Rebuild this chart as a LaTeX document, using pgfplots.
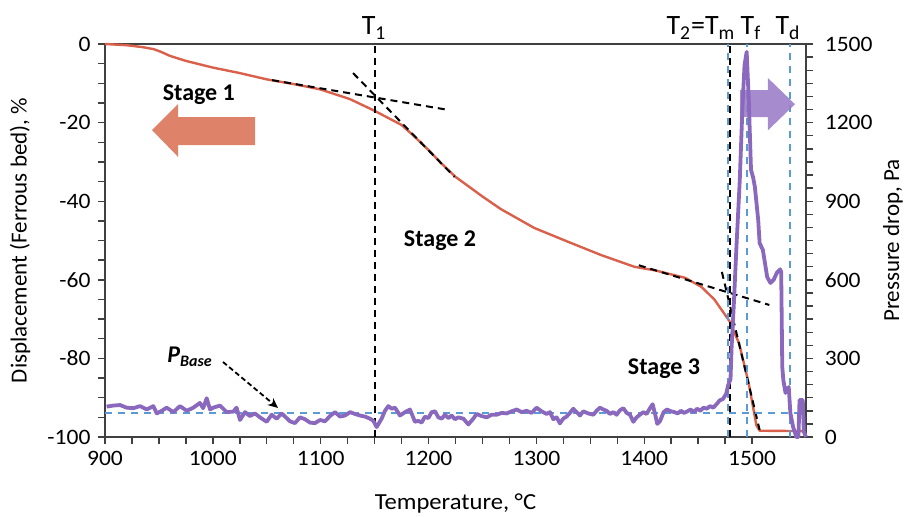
\documentclass[border=0pt]{standalone}
\usepackage{pgfplots}
\pgfplotsset{compat=1.18}
\usepackage{fontspec}
\setmainfont{Carlito}
\usetikzlibrary{arrows.meta}
\definecolor{redl}{HTML}{D9604A}
\definecolor{purl}{HTML}{8A68BE}
\definecolor{bluel}{HTML}{5B9BD5}
\definecolor{arrsal}{HTML}{DE826A}
\definecolor{arrpur}{HTML}{9C80C9}
\definecolor{axgray}{HTML}{404040}
\begin{document}
\begin{tikzpicture}
\path[use as bounding box] (-52.5pt,-39.5pt) rectangle (403.5pt,218.5pt);
\pgfplotsset{
  every axis/.append style={
    scale only axis, width=350.5pt, height=196.5pt, at={(0pt,0pt)}, anchor=south west,
    xmin=900, xmax=1550, clip=false,
    tick align=outside, major tick length=3.5pt, minor tick length=3.5pt,
    every tick/.style={axgray, line width=0.7pt},
    axis line style={axgray, line width=0.8pt},
    tick label style={font=\fontsize{11}{13}\selectfont, xscale=1.07},
    label style={font=\fontsize{11.5}{13}\selectfont},
    /pgf/number format/assume math mode=true,
    /pgf/number format/1000 sep={},
  },
  dashb/.style={black, line width=1pt, dash pattern=on 3.5pt off 2.5pt},
  dashbl/.style={bluel, line width=1pt, dash pattern=on 3.5pt off 3pt},
}
% ---------------- Displacement axis ----------------
\begin{axis}[
  ymin=-100, ymax=0,
  xtick={900,1000,...,1500}, minor x tick num=3,
  ytick={-100,-80,...,0}, minor y tick num=3,
  xtick pos=bottom, ytick pos=left,
  xlabel={Temperature, °C},
  ylabel={Displacement (Ferrous bed), \%},
  xlabel style={at={(axis description cs:0.5,-0.168)}, anchor=center, xscale=1.07},
  ylabel style={at={(axis description cs:-0.121,0.5)}, anchor=center, rotate=0},
]
% salmon arrow
\fill[arrsal] (axis cs:943.6,-21.9) -- (axis cs:967.7,-15.3) -- (axis cs:967.7,-18.6)
  -- (axis cs:1039.1,-18.6) -- (axis cs:1039.1,-25.7) -- (axis cs:967.7,-25.7)
  -- (axis cs:967.7,-28.7) -- cycle;
% displacement curve
\addplot[redl, line width=1.2pt, no markers, line join=round] coordinates {
(900,0) (920,-0.3) (935,-0.8) (945,-1.3) (952,-2.0) (960,-3.0) (975,-4.3) (1000,-6.0)
(1025,-7.4) (1050,-9.0) (1075,-10.2) (1099,-11.5) (1127,-14.0) (1150,-17.0) (1175,-20.6)
(1186,-23.3) (1200,-27.0) (1212,-30.4) (1225,-33.8) (1250,-38.8) (1267,-42.0) (1298,-46.8)
(1330,-50.4) (1360,-53.7) (1391,-56.7) (1410,-57.6) (1438,-59.5) (1453,-61.8) (1465,-65.0)
(1479,-70.5) (1488,-76.2) (1497,-86.5) (1504,-97.0) (1507,-98.4) (1548,-98.5)
};
% tangent lines
\addplot[dashb] coordinates {(1055,-9.2) (1219,-16.8)};
\addplot[dashb] coordinates {(1130,-7.4) (1224,-33.8)};
\addplot[dashb] coordinates {(1395,-56.3) (1516,-66.4)};
\addplot[dashb] coordinates {(1472,-58.0) (1507,-98.2)};
% vertical markers
\addplot[dashb] coordinates {(1150,-100) (1150,0)};
\addplot[dashbl] coordinates {(1478,-100) (1478,0)};
\addplot[dashb] coordinates {(1479.5,-100) (1479.5,0)};
\addplot[dashbl] coordinates {(1495,-100) (1495,0)};
\addplot[dashbl] coordinates {(1535,-100) (1535,0)};
% labels
\node[font=\fontsize{12}{14}\selectfont\bfseries] at (axis cs:987,-13.0) {Stage 1};
\node[font=\fontsize{12}{14}\selectfont\bfseries] at (axis cs:1210.6,-50.1) {Stage 2};
\node[font=\fontsize{12}{14}\selectfont\bfseries] at (axis cs:1418.3,-82.7) {Stage 3};
\node[font=\fontsize{12}{14}\selectfont\bfseries\itshape] at (axis cs:978.8,-79.6) {P\textsubscript{Base}};
\draw[black, line width=0.9pt, dash pattern=on 2.5pt off 1.5pt, -{Stealth[length=5pt,width=4.5pt]}]
  (axis cs:1009.4,-80.9) -- (axis cs:1060.4,-92.6);
\node[font=\fontsize{14}{16}\selectfont, anchor=base] at (axis cs:1149.5,2.3) {T\textsubscript{1}};
\node[font=\fontsize{14}{16}\selectfont, anchor=base] at (axis cs:1452.6,2.3) {T\textsubscript{2}=T\textsubscript{m}};
\node[font=\fontsize{14}{16}\selectfont, anchor=base] at (axis cs:1499,2.3) {T\textsubscript{f}};
\node[font=\fontsize{14}{16}\selectfont, anchor=base] at (axis cs:1533.3,2.3) {T\textsubscript{d}};
\end{axis}
% ---------------- Pressure axis ----------------
\begin{axis}[
  ymin=0, ymax=1500,
  axis y line*=right, axis x line=none,
  ytick={0,300,...,1500}, minor y tick num=5,
  yticklabel style={xshift=2pt},
  ylabel={Pressure drop, Pa},
  ylabel style={at={(axis description cs:1.124,0.5)}, anchor=center, rotate=0},
]
% purple arrow
\fill[arrpur, opacity=0.9] (axis cs:1539.8,1270.2) -- (axis cs:1514.7,1370) -- (axis cs:1514.7,1324.4)
  -- (axis cs:1488.8,1324.4) -- (axis cs:1488.8,1221.2) -- (axis cs:1514.7,1221.2)
  -- (axis cs:1514.7,1170.6) -- cycle;
\addplot[dashbl] coordinates {(900,90) (1550,90)};
\addplot[purl, line width=1.9pt, no markers, line join=round] coordinates {
(901.5,116) (907.7,120) (913.9,122) (920,112) (926.3,110) (932.5,118) (938.7,105) (944.8,118)
(948,90) (952.6,100) (957.2,112) (963.4,95) (969.5,118) (975.8,100) (981.9,112) (988,130)
(991,110) (994.3,148) (997.4,105) (1000.4,112) (1006.6,120) (1012.8,95) (1019,97) (1022,112)
(1025.2,65) (1029.8,95) (1034.4,80) (1039,90) (1043.7,75) (1049.9,58) (1054.5,85) (1059.2,70)
(1063.8,90) (1068.5,72) (1071.5,60) (1076.2,53) (1080.8,75) (1085.4,68) (1090.1,55) (1094.7,53)
(1099.4,65) (1104,60) (1108.6,80) (1113.3,95) (1117.9,78) (1122.5,82) (1127.2,95) (1131.8,88)
(1136.4,82) (1141.1,78) (1145.7,70) (1148.8,62) (1151.9,38) (1156.5,70) (1159.6,100) (1162.7,118)
(1165.8,108) (1168.9,112) (1173.5,82) (1178.2,95) (1182.8,105) (1187.4,58) (1190.5,62) (1193.6,55)
(1196.7,78) (1199.8,72) (1202.9,95) (1206,98) (1209.1,75) (1212.2,70) (1215.3,85) (1218.4,72)
(1221.4,82) (1224.5,68) (1227.6,75) (1232.3,70) (1236.9,48) (1241.5,70) (1244.6,88) (1249.2,80)
(1253.9,75) (1258.5,85) (1263.1,85) (1267.8,92) (1272.4,90) (1277,98) (1281.7,105) (1286.3,95)
(1290.9,100) (1295.6,92) (1300.2,112) (1304.8,98) (1309.5,88) (1312.6,95) (1315.7,68) (1318.8,75)
(1321.8,52) (1324.9,70) (1328,78) (1331.1,92) (1334.2,108) (1337.3,95) (1340.4,82) (1343.5,98)
(1348.1,90) (1352.8,85) (1355.8,100) (1358.9,112) (1362,105) (1365.1,100) (1368.2,88) (1371.3,95)
(1374.4,85) (1377.5,102) (1380.6,110) (1383.7,92) (1386.8,85) (1389.9,58) (1392.9,75) (1396,85)
(1399.1,95) (1402.2,88) (1405.3,110) (1407.8,125) (1410.2,85) (1412.1,50) (1414.6,60) (1418,95)
(1421,105) (1425,98) (1428,95) (1431,90) (1434,100) (1437,92) (1440,98) (1443,105) (1446,95)
(1449,108) (1452,100) (1455,112) (1458,108) (1461,118) (1464,112) (1467,125) (1470,140)
(1473,145) (1476,165) (1478,200) (1480,220) (1481,340) (1483,500) (1485.5,725) (1488.6,981)
(1491,1250) (1493,1420) (1495,1470) (1497,1280) (1499,1020) (1501,990) (1502.6,954) (1505.7,828)
(1507,740) (1510,714) (1514,611) (1517,588) (1520,600) (1523,627) (1526,640) (1527,630)
(1528,267) (1529,217) (1531,168) (1534,191) (1535.5,92) (1538,39) (1541,0) (1543,0)
(1544,141) (1547,141) (1548,20) (1550,0)
};
\end{axis}
\end{tikzpicture}
\end{document}
